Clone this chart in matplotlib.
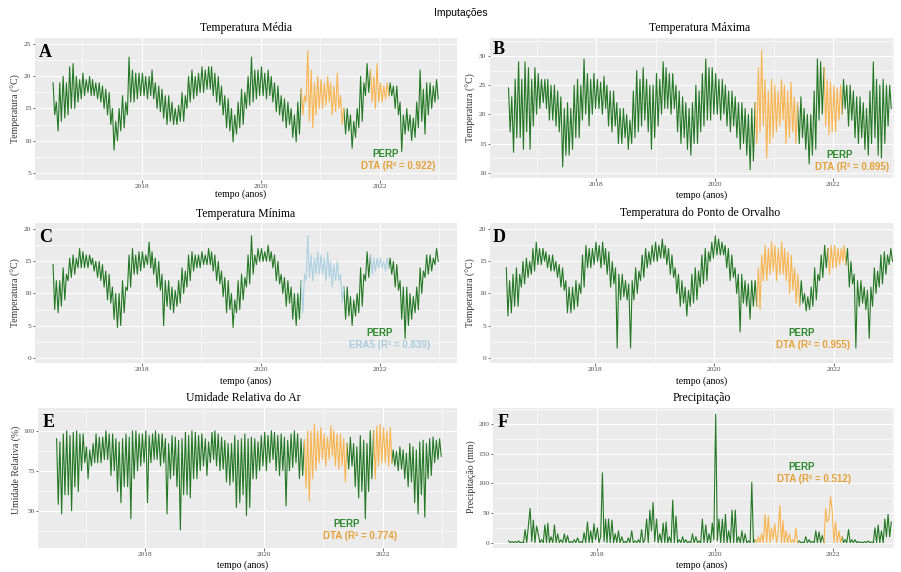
import numpy as np
import pandas as pd
import matplotlib
matplotlib.use('Agg')
import matplotlib.pyplot as plt
from matplotlib.ticker import FixedLocator

plt.rcParams['font.family'] = ['Liberation Serif', 'DejaVu Serif']

# tres leituras por mes (aprox. do grafico), jul/2016 a dez/2022
meses = pd.date_range('2016-07-01', '2022-12-01', freq='MS')
datas = [m + pd.Timedelta(days=d) for m in meses for d in (5, 15, 25)]
anos = np.array([d.year + (d.dayofyear - 0.5) / 365.25 for d in datas])

t_media = [
    [19, 14, 16], [11.5, 19, 13], [20, 13.5, 19], [14, 21.5, 15], [22, 15, 20], [16, 19.5, 16.5],
    [20.5, 17, 19.5], [17.5, 20, 17], [19.5, 17, 19], [16.5, 19, 16], [18.5, 15, 18], [14, 17.5, 12.5],
    [15, 8.5, 13], [10, 15, 11.5], [17, 12, 16], [14, 23, 16], [21, 16, 20.5], [16.5, 20.5, 17],
    [20.5, 17, 20], [16.5, 20, 17], [21, 16.5, 19], [15, 18.5, 14.5], [18, 13.5, 17], [12.5, 17, 13],
    [16, 12.5, 15], [12.5, 15.5, 13], [17.5, 13, 17], [15, 20, 16], [21, 16.5, 20], [17, 20.5, 17.5],
    [21.5, 17.5, 21], [18, 21.5, 18], [21.5, 17, 20.5], [16, 20, 15.5], [18.5, 14, 17], [12, 16.5, 11.5],
    [15, 9.8, 14], [11, 16, 12], [18, 12.5, 17.5], [15, 20, 15.5], [23, 16, 21], [16.5, 21, 17],
    [21.5, 17, 20.5], [16.5, 21, 17], [20, 16, 19], [14.5, 18.5, 14], [17, 13, 16.5], [12, 16, 12.5],
    [15, 10.5, 14], [9.8, 16, 11], [18, 14, 17], [16, 24, 13], [21, 12, 19], [14, 20, 15],
    [19.5, 15, 19], [15.5, 20, 16], [19, 14, 18.5], [14.5, 20.5, 15], [17, 12.5, 15], [11, 15, 11.5],
    [14, 8.8, 13], [10.5, 15, 12], [20, 13, 19], [17, 22, 17.5], [21, 16, 20], [15, 22, 16],
    [19, 16, 18.5], [16.5, 19, 17], [19, 17, 18.5], [15, 18.5, 14], [16, 8.3, 14], [11, 15, 11.5],
    [14, 10, 13.5], [10.5, 16, 12], [21, 13, 18], [11, 19, 14], [19, 15, 18.5], [16, 19.5, 16.5],
]
t_max = [
    [24.5, 17, 23], [13.5, 26, 16], [29, 16, 26], [14, 29, 17], [28, 14, 26], [18, 28, 20],
    [27, 21, 26], [22, 26, 21], [26, 19, 25], [19, 25, 18], [24, 17, 23], [11, 21, 13],
    [22, 13, 21], [14, 25, 16], [26, 16, 25], [19, 29.5, 20], [27, 18, 26], [20, 27, 21],
    [26, 21, 25.5], [20, 26.5, 21], [25, 18, 24], [17, 24, 18], [22, 15, 21], [15, 21, 16],
    [20, 14, 19], [15, 24, 16], [27.5, 17, 26], [18, 28, 19], [26, 17, 25], [14, 25, 16],
    [27, 18, 26], [20, 29, 21], [28, 21, 27], [20, 27, 21], [25, 17, 24], [15, 23, 16],
    [22, 14, 21], [13, 22, 15], [25, 15, 24], [17, 27, 18], [29.5, 19, 28], [19, 28, 20],
    [27, 20, 26], [19, 26, 20], [25, 18, 24], [17, 24, 18], [23, 16, 22], [14, 22, 15],
    [21, 13, 20], [10.5, 21, 12], [22, 15, 28], [17, 31, 18], [26, 12.5, 24], [15, 26, 16],
    [25, 17, 24], [18, 26, 19], [25, 15, 24], [16, 25.5, 17], [23, 15, 22], [15, 23, 16],
    [21, 14, 20], [11.5, 20, 13], [24, 14, 29.5], [19, 29, 20], [28, 18, 26], [16.5, 25.5, 17],
    [25, 17, 24.5], [19, 25, 20], [26, 21, 25], [18, 25, 19], [24, 16, 23], [15, 23, 16],
    [22, 14, 21], [13, 24, 15], [29, 16, 26], [13, 25, 12.5], [26, 15, 25], [18, 25, 21],
]
t_min = [
    [14.5, 7.5, 12], [7, 12, 8], [14, 9, 13], [12, 15.5, 12.5], [16, 13, 15.5], [14, 17, 14],
    [16.5, 14, 16], [14, 16, 14.5], [15.5, 13.5, 15], [12.5, 15, 12], [14.5, 11, 13.5], [9, 13, 8.5],
    [11, 6, 10], [4.7, 10, 5], [12, 7, 11], [10.5, 16, 11], [17, 13, 16], [13, 16.5, 13.5],
    [16.5, 14, 16], [14.5, 18, 14], [16.5, 13, 15.5], [11, 15, 10.5], [13, 5, 12], [8, 12, 7.5],
    [11, 7, 10.5], [8, 12, 8.5], [14, 10, 13.5], [11, 16, 12], [16.5, 13.5, 16], [14, 16, 14],
    [16.5, 14.5, 16], [14.5, 17, 14.5], [16.5, 13.5, 16], [12, 15, 11.5], [13.5, 9.5, 12.5], [7, 12, 7.5],
    [10, 4.7, 9], [7, 12, 7.5], [13, 9, 12.5], [11, 16, 11.5], [19, 13, 16], [14.5, 17, 15],
    [17, 15, 16.5], [15, 17.5, 15], [16.5, 14, 16], [12, 15, 11.5], [13, 10, 12.5], [8, 12, 8.5],
    [11, 6, 10], [5, 10, 6], [12, 7, 13], [12, 19, 12.5], [16, 12, 15.5], [13, 16.5, 13],
    [16, 13, 15.5], [12, 16.5, 12.5], [15, 11, 14.5], [12, 15, 12], [13, 8.5, 11], [6, 11, 6.5],
    [9.5, 5, 9], [6.5, 10, 7], [14, 8, 13], [12, 16.5, 12.5], [16, 13, 15.5], [13.5, 15.5, 14],
    [15.5, 14, 15], [13.5, 15.5, 14], [15.5, 13, 15], [11, 14.5, 10.5], [12, 6, 11], [3, 11, 5],
    [10, 6, 9.5], [7, 11, 7.5], [14, 10, 13.5], [12.5, 16, 13], [16, 13.5, 15.5], [14.5, 17, 15],
]
t_orvalho = [
    [14, 6.5, 12], [7, 13, 8], [14, 8, 13], [11, 15, 11.5], [15.5, 12.5, 15], [13, 17, 13.5],
    [18, 14.5, 17], [14.5, 17, 15], [16.5, 14, 16], [13.5, 16, 13.5], [15, 12.5, 14.5], [11, 14, 10.5],
    [12, 7, 11], [7, 11, 7.5], [12, 8, 11.5], [10, 16, 11], [17.5, 14, 17], [14, 17, 14.5],
    [18, 15, 17.5], [14, 18, 14.5], [17, 13, 16.5], [11, 15, 11.5], [14, 1.5, 13], [9, 13, 9.5],
    [12, 9, 11.5], [1.5, 12, 9], [14, 10, 13.5], [12, 16, 12.5], [17, 14, 16.5], [14.5, 17.5, 15],
    [18, 15, 17.5], [15.5, 18.5, 15.5], [17.5, 14.5, 17], [13, 16, 12.5], [14, 10, 13], [8, 12, 8.5],
    [11, 6.5, 10.5], [8, 13, 8.5], [14, 9, 13.5], [11, 16, 11.5], [17, 12, 16.5], [15, 18, 15.5],
    [19, 16, 18.5], [16, 18, 16], [17.5, 14, 17], [12, 16, 12.5], [14, 10, 13], [4, 13, 8.5],
    [12, 8, 11.5], [6, 12, 8], [12, 8, 14], [7.5, 16, 12], [17.5, 12, 17], [13, 18, 13.5],
    [17.5, 12, 17], [13, 18, 13], [17, 12, 16.5], [10, 16, 10.5], [14, 8.5, 13], [8, 12, 8.5],
    [10, 7.3, 9.5], [7.5, 11, 8], [14, 9, 13], [12, 16, 12.5], [17.5, 14, 17], [13, 17.5, 14],
    [17.5, 14, 17], [14.5, 17, 15], [17.5, 14.5, 17], [11, 15, 11.5], [13, 1.5, 12], [8, 12, 8.5],
    [11, 7.5, 10.5], [3, 11, 8], [14, 10, 13.5], [11, 16, 11.5], [16.5, 13, 16], [14.5, 17, 15],
]
umidade = [
    [95, 54, 93], [48, 98, 60], [100, 60, 97], [50, 99, 65], [100, 62, 98], [75, 98, 80],
    [90, 70, 88], [78, 92, 80], [98, 80, 96], [80, 96, 82], [100, 82, 98], [72, 98, 75],
    [95, 62, 93], [55, 95, 65], [98, 65, 96], [45, 100, 70], [100, 75, 98], [78, 98, 80],
    [100, 55, 97], [80, 98, 82], [100, 82, 98], [78, 98, 80], [95, 48, 92], [70, 97, 72],
    [96, 65, 94], [38, 95, 60], [99, 60, 97], [58, 100, 70], [99, 70, 97], [75, 98, 78],
    [95, 72, 93], [80, 99, 82], [100, 78, 98], [75, 96, 76], [94, 68, 92], [66, 92, 68],
    [97, 52, 94], [55, 95, 60], [98, 47, 95], [52, 96, 70], [95, 70, 93], [75, 97, 78],
    [99, 75, 97], [80, 100, 82], [99, 75, 97], [72, 98, 75], [96, 53, 94], [75, 98, 77],
    [100, 80, 98], [70, 95, 72], [94, 64, 100], [56, 100, 70], [104, 75, 100], [80, 102, 82],
    [98, 78, 96], [82, 103, 84], [100, 78, 98], [76, 98, 78], [95, 68, 92], [76, 96, 78],
    [92, 65, 90], [58, 97, 62], [94, 45, 92], [62, 100, 70], [100, 70, 103], [78, 104, 80],
    [102, 80, 100], [78, 102, 80], [88, 78, 87], [75, 90, 76], [88, 70, 86], [65, 92, 68],
    [90, 55, 88], [48, 93, 60], [94, 46, 92], [70, 95, 72], [96, 80, 94], [82, 95, 84],
]
precipitacao = [
    [3, 0, 2], [0, 2, 0], [3, 0, 1], [0, 22, 0], [30, 58, 2], [38, 0, 28],
    [15, 0, 5], [0, 30, 0], [33, 0, 10], [0, 30, 0], [15, 0, 5], [0, 15, 0],
    [12, 0, 2], [0, 5, 0], [8, 0, 2], [0, 17, 0], [35, 0, 20], [0, 32, 5],
    [25, 0, 10], [118, 2, 40], [0, 40, 0], [38, 0, 15], [0, 20, 0], [10, 0, 2],
    [0, 8, 0], [20, 0, 3], [0, 5, 0], [22, 0, 5], [40, 0, 55], [20, 68, 2],
    [40, 0, 15], [0, 33, 0], [35, 0, 10], [0, 72, 0], [45, 0, 5], [0, 10, 0],
    [5, 0, 2], [0, 15, 0], [10, 0, 3], [0, 40, 0], [30, 0, 15], [0, 33, 5],
    [217, 3, 40], [0, 40, 0], [48, 0, 20], [0, 55, 0], [55, 0, 10], [0, 20, 0],
    [15, 0, 3], [0, 102, 0], [5, 0, 10], [0, 15, 0], [48, 0, 45], [0, 25, 5],
    [32, 0, 15], [63, 0, 37], [0, 20, 0], [15, 0, 5], [0, 25, 0], [3, 0, 1],
    [0, 10, 0], [5, 0, 2], [0, 20, 0], [18, 0, 12], [0, 58, 35], [40, 78, 55],
    [0, 35, 0], [20, 0, 10], [0, 5, 0], [22, 0, 5], [0, 5, 0], [2, 0, 1],
    [0, 2, 0], [3, 0, 1], [0, 25, 0], [30, 0, 20], [0, 40, 10], [48, 10, 35],
]

# periodos imputados
imput_padrao = [('2020-09-08', '2021-05-20'), ('2021-11-15', '2022-02-25')]
imput_orvalho = [('2020-09-24', '2021-06-05'), ('2021-11-28', '2022-03-10')]

titulos = ['Temperatura Média', 'Temperatura Máxima', 'Temperatura Mínima',
           'Temperatura do Ponto de Orvalho', 'Umidade Relativa do Ar', 'Precipitação']
fontes = ['DTA', 'DTA', 'ERA5', 'DTA', 'DTA', 'DTA']
r2 = [0.922, 0.895, 0.839, 0.955, 0.774, 0.512]

VERDE = '#006400'
LARANJA = '#F9B44E'
AZUL = '#ADD0E2'
TXT_VERDE = '#2E8B2E'
TXT_LARANJA = '#E5A23A'
TXT_AZUL = '#A9CCE0'
SANS = ['Liberation Sans', 'DejaVu Sans']

W, H = 901, 572
fig = plt.figure(figsize=(W / 100, H / 100), dpi=100)


def px(x, y):
    return x / W, 1 - y / H


paineis = [
    dict(y=t_media, box=(35, 38, 457, 180), xlim=(2016.21, 2023.30), ylim=(3.86, 25.98),
         yt=[5, 10, 15, 20, 25], ylab='Temperatura (°C)', tit=(246, 28), xl=(241, 194),
         yl=(16, 109), let=(39, 57), perp=(386, 154), imp=(398, 166), imput=imput_padrao),
    dict(y=t_max, box=(490, 38, 894, 178), xlim=(2016.20, 2023.03), ylim=(9.09, 33.08),
         yt=[10, 15, 20, 25, 30], ylab='Temperatura (°C)', tit=(700, 28), xl=(702, 195),
         yl=(471, 108), let=(493, 54), perp=(840, 155), imp=(852, 167), imput=imput_padrao),
    dict(y=t_min, box=(35, 223, 457, 363), xlim=(2016.21, 2023.30), ylim=(-0.83, 20.98),
         yt=[0, 5, 10, 15, 20], ylab='Temperatura (°C)', tit=(246, 214), xl=(246, 381),
         yl=(16, 293), let=(39, 242), perp=(380, 333), imp=(390, 345), imput=imput_padrao),
    dict(y=t_orvalho, box=(490, 223, 894, 363), xlim=(2016.24, 2023.01), ylim=(-0.83, 20.98),
         yt=[0, 5, 10, 15, 20], ylab='Temperatura (°C)', tit=(700, 213), xl=(702, 381),
         yl=(471, 293), let=(493, 242), perp=(802, 333), imp=(813, 345), imput=imput_orvalho),
    dict(y=umidade, box=(38, 408, 457, 548), xlim=(2016.20, 2023.25), ylim=(26.7, 114.2),
         yt=[50, 75, 100], ylab='Umidade Relativa (%)', tit=(243, 398), xl=(243, 565),
         yl=(16, 470), let=(43, 427), perp=(347, 524), imp=(360, 536), imput=imput_padrao),
    dict(y=precipitacao, box=(493, 408, 894, 548), xlim=(2016.25, 2023.03), ylim=(-9, 227.5),
         yt=[0, 50, 100, 150, 200], ylab='Precipitação (mm)', tit=(702, 398), xl=(702, 565),
         yl=(471, 477), let=(498, 427), perp=(802, 467), imp=(814, 479), imput=imput_padrao),
]

for i, p in enumerate(paineis):
    x0, y0, x1, y1 = p['box']
    ax = fig.add_axes([x0 / W, 1 - y1 / H, (x1 - x0) / W, (y1 - y0) / H])
    ax.set_facecolor('#EBEBEB')
    for s in ax.spines.values():
        s.set_visible(False)
    ax.set_xlim(*p['xlim'])
    ax.set_ylim(*p['ylim'])
    ax.xaxis.set_major_locator(FixedLocator([2018, 2020, 2022]))
    ax.xaxis.set_minor_locator(FixedLocator([2017, 2019, 2021, 2023]))
    ax.set_xticklabels(['2018', '2020', '2022'])
    yt = p['yt']
    passo = yt[1] - yt[0]
    ax.yaxis.set_major_locator(FixedLocator(yt))
    ax.yaxis.set_minor_locator(FixedLocator([v + passo / 2 for v in [yt[0] - passo] + yt]))
    ax.grid(which='major', color='white', lw=0.8)
    ax.grid(which='minor', color='white', lw=0.4)
    ax.set_axisbelow(True)
    ax.tick_params(which='major', length=1.8, width=0.5, color='#333333', pad=0.8,
                   labelsize=5.3, labelcolor='#4D4D4D')
    ax.tick_params(which='minor', length=0)

    y = np.array(p['y'], dtype=float).ravel()
    imp = np.zeros(len(anos), dtype=bool)
    for a, b in p['imput']:
        da = pd.Timestamp(a)
        db = pd.Timestamp(b)
        imp |= np.array([da <= d <= db for d in datas])
    ext = imp.copy()
    ext[1:] |= imp[:-1]
    ext[:-1] |= imp[1:]
    cor_imp = AZUL if fontes[i] == 'ERA5' else LARANJA
    ax.plot(anos, np.where(~imp, y, np.nan), color=VERDE, lw=0.8, alpha=0.85)
    ax.plot(anos, np.where(ext, y, np.nan), color=cor_imp, lw=0.8)

    fig.text(*px(*p['tit']), titulos[i], ha='center', va='center', fontsize=8.5)
    fig.text(*px(*p['xl']), 'tempo (anos)', ha='center', va='center', fontsize=7)
    fig.text(*px(*p['yl']), p['ylab'], ha='center', va='center', rotation=90,
             fontsize=7, color='#333333')
    fig.text(*px(*p['let']), 'ABCDEF'[i], ha='left', va='baseline', fontsize=13,
             fontweight='bold')
    fig.text(*px(*p['perp']), 'PERP', ha='center', va='center', fontsize=7,
             fontweight='bold', family=SANS, color=TXT_VERDE)
    cor_txt = TXT_AZUL if fontes[i] == 'ERA5' else TXT_LARANJA
    fig.text(*px(*p['imp']), f'{fontes[i]} (R² = {r2[i]:.3f})', ha='center', va='center',
             fontsize=7, fontweight='bold', family=SANS, color=cor_txt)

fig.text(*px(461, 13), 'Imputações', ha='center', va='center', fontsize=7.5, family=SANS)

fig.savefig('out.png', dpi=100, facecolor='white')
